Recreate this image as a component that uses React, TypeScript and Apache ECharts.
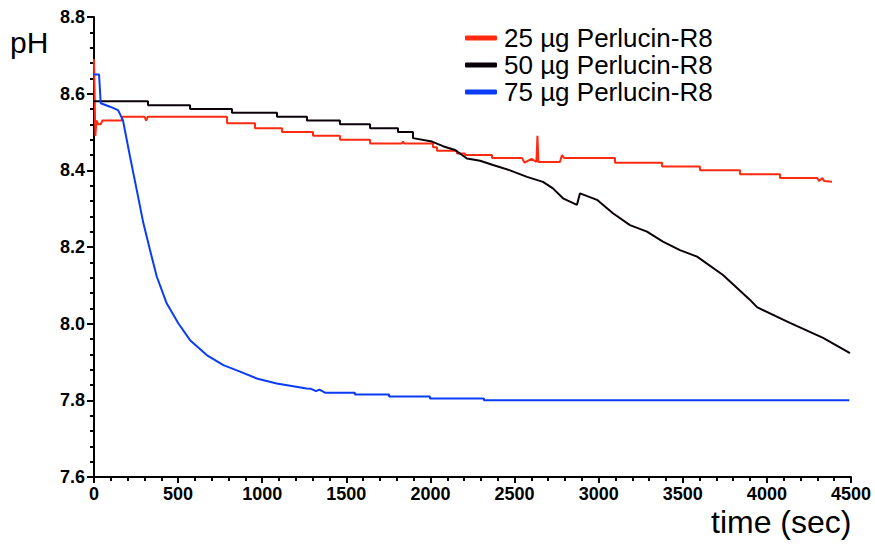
import React, { useEffect, useRef } from "react";
import * as echarts from "echarts";

// Time axis ticks
const xTicks = [0, 500, 1000, 1500, 2000, 2500, 3000, 3500, 4000, 4500];
const yTicks = [7.6, 7.8, 8.0, 8.2, 8.4, 8.6, 8.8];

const seriesNames = ["25 µg Perlucin-R8", "50 µg Perlucin-R8", "75 µg Perlucin-R8"];
const seriesColors = ["#ff2a10", "#0a0008", "#0a3cf5"];

// 25 µg series
const redT = [0, 8, 15, 25, 40, 50, 166, 166, 300, 310, 320, 791, 791, 957, 957, 1118, 1118, 1302, 1302, 1462, 1462, 1641, 1641, 1830, 1837, 1845, 2015, 2015, 2039, 2039, 2158, 2158, 2205, 2205, 2366, 2366, 2544, 2560, 2600, 2630, 2636, 2642, 2648, 2770, 2782, 2795, 3097, 3097, 3377, 3377, 3602, 3602, 3840, 3840, 4078, 4078, 4300, 4310, 4330, 4340, 4387];
const redPh = [8.69, 8.49, 8.53, 8.52, 8.52, 8.53, 8.53, 8.54, 8.54, 8.53, 8.54, 8.54, 8.523, 8.523, 8.51, 8.51, 8.50, 8.50, 8.49, 8.49, 8.48, 8.48, 8.47, 8.47, 8.475, 8.47, 8.47, 8.46, 8.46, 8.451, 8.451, 8.444, 8.444, 8.44, 8.44, 8.432, 8.432, 8.42, 8.43, 8.422, 8.49, 8.422, 8.422, 8.422, 8.44, 8.432, 8.432, 8.42, 8.42, 8.41, 8.41, 8.40, 8.40, 8.39, 8.39, 8.38, 8.38, 8.372, 8.38, 8.372, 8.37];

// 50 µg series
const blackT = [0, 321, 321, 571, 571, 820, 820, 1088, 1088, 1266, 1266, 1462, 1462, 1641, 1641, 1807, 1807, 1896, 1896, 2009, 2075, 2146, 2217, 2295, 2372, 2473, 2574, 2669, 2728, 2788, 2871, 2889, 2990, 3085, 3186, 3287, 3382, 3483, 3585, 3739, 3900, 3941, 4137, 4334, 4494];
const blackPh = [8.58, 8.58, 8.57, 8.57, 8.56, 8.56, 8.55, 8.55, 8.54, 8.54, 8.53, 8.53, 8.52, 8.52, 8.51, 8.51, 8.50, 8.50, 8.484, 8.475, 8.463, 8.453, 8.431, 8.425, 8.414, 8.40, 8.383, 8.37, 8.353, 8.327, 8.31, 8.34, 8.323, 8.288, 8.257, 8.24, 8.214, 8.192, 8.175, 8.127, 8.062, 8.043, 8.002, 7.963, 7.923];

// 75 µg series
const blueT = [0, 30, 40, 95, 143, 172, 214, 254, 293, 333, 373, 432, 501, 571, 670, 769, 868, 967, 1086, 1264, 1290, 1320, 1340, 1373, 1551, 1551, 1754, 1754, 1997, 1997, 2318, 2318, 4490];
const bluePh = [8.65, 8.65, 8.575, 8.566, 8.557, 8.531, 8.436, 8.349, 8.263, 8.192, 8.123, 8.053, 8.001, 7.957, 7.918, 7.892, 7.875, 7.857, 7.844, 7.831, 7.83, 7.824, 7.828, 7.82, 7.82, 7.815, 7.815, 7.81, 7.81, 7.805, 7.805, 7.80, 7.80];

const zip = (t: number[], v: number[]) => t.map((x, i) => [x, v[i]]);

export default function App() {
  const ref = useRef<HTMLDivElement>(null);
  useEffect(() => {
    if (!ref.current) return;
    const chart = echarts.init(ref.current, null, { renderer: "svg" });
    const font = "'Liberation Sans', Arial, Helvetica, sans-serif";
    const axisCommon = {
      axisLine: { show: true, onZero: false, lineStyle: { color: "#000", width: 2 } },
      axisTick: { show: true, inside: false, length: 6, lineStyle: { color: "#000", width: 2 } },
      minorTick: { show: true, splitNumber: 5, length: 4, lineStyle: { color: "#000", width: 2 } },
      splitLine: { show: false },
      minorSplitLine: { show: false },
    };
    const datas = [zip(redT, redPh), zip(blackT, blackPh), zip(blueT, bluePh)];
    chart.setOption({
      animation: false,
      backgroundColor: "#fff",
      grid: { left: 94, right: 24, top: 17, bottom: 67 },
      xAxis: {
        type: "value",
        min: xTicks[0],
        max: xTicks[xTicks.length - 1],
        interval: 500,
        ...axisCommon,
        axisLabel: {
          fontFamily: font,
          fontWeight: "bold",
          fontSize: 18,
          color: "#000",
          margin: 8,
          formatter: (v: number) => String(v),
        },
      },
      yAxis: {
        type: "value",
        min: yTicks[0],
        max: yTicks[yTicks.length - 1],
        interval: 0.2,
        ...axisCommon,
        axisTick: { show: true, inside: false, length: 7, lineStyle: { color: "#000", width: 2 } },
        axisLabel: {
          fontFamily: font,
          fontWeight: "bold",
          fontSize: 18,
          color: "#000",
          margin: 9,
          formatter: (v: number) => v.toFixed(1),
        },
      },
      legend: {
        show: true,
        orient: "vertical",
        left: 460,
        top: 20,
        icon: "roundRect",
        itemWidth: 32,
        itemHeight: 5,
        itemGap: 1,
        textStyle: { fontFamily: font, fontSize: 26, lineHeight: 26, color: "#000", padding: [0, 0, 0, 2] },
        data: seriesNames,
      },
      graphic: [
        { type: "text", left: 10, top: 27, style: { text: "pH", fontFamily: font, fontSize: 30, fill: "#000" } },
        { type: "text", left: 711, top: 506, style: { text: "time (sec)", fontFamily: font, fontSize: 32, fill: "#000" } },
      ],
      series: seriesNames.map((name, i) => ({
        name,
        type: "line",
        data: datas[i],
        showSymbol: false,
        symbol: "none",
        color: seriesColors[i],
        lineStyle: { color: seriesColors[i], width: 2 },
        z: 2 + i,
      })),
    });
    return () => chart.dispose();
  }, []);
  return <div ref={ref} style={{ position: "fixed", left: 0, top: 0, width: 875, height: 544, background: "#fff" }} />;
}
